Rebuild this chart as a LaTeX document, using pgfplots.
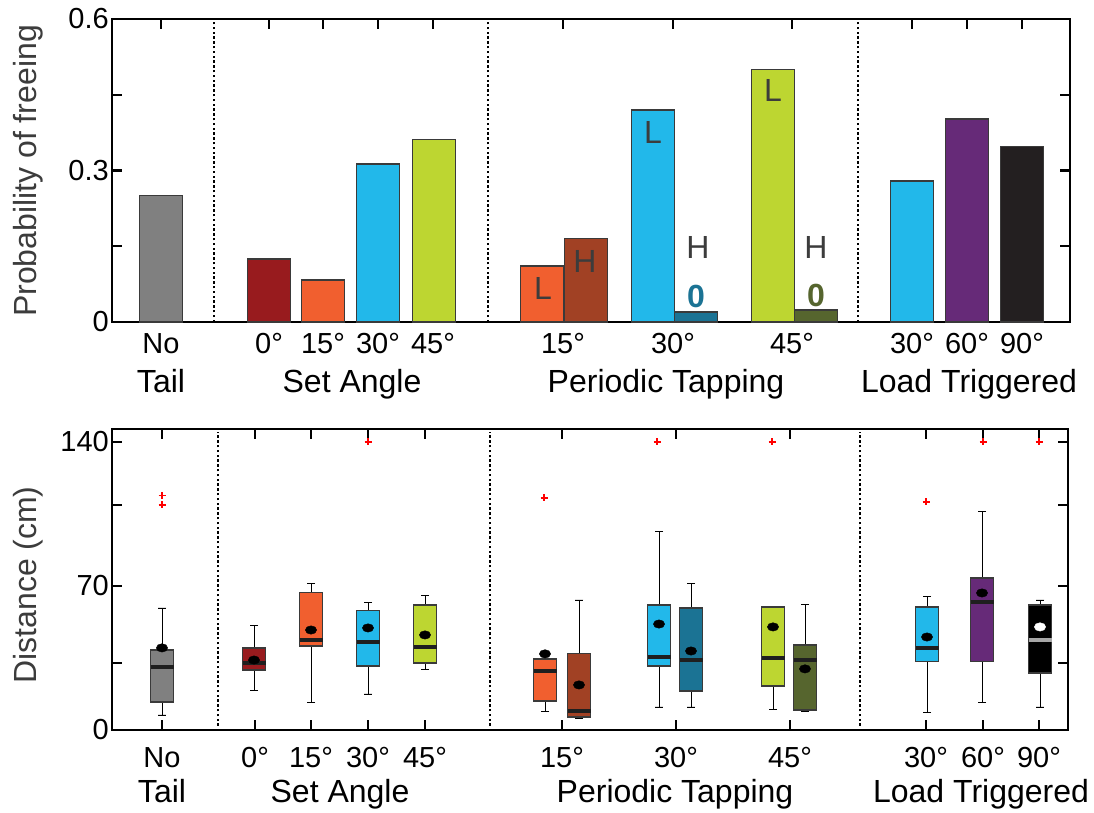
\documentclass[border=0pt]{standalone}
\usepackage{fontspec}
\setmainfont{Liberation Sans}
\usepackage{pgfplots}
\pgfplotsset{compat=1.18}
\usepgfplotslibrary{statistics}

\definecolor{cGray}{HTML}{808080}
\definecolor{cRed}{HTML}{981B1E}
\definecolor{cOrange}{HTML}{F15F2F}
\definecolor{cCyan}{HTML}{22B8EA}
\definecolor{cLime}{HTML}{BDD631}
\definecolor{cBrown}{HTML}{A14124}
\definecolor{cTeal}{HTML}{1B7394}
\definecolor{cOlive}{HTML}{56652E}
\definecolor{cPurple}{HTML}{662A78}
\definecolor{cBlack}{HTML}{231F20}
\definecolor{edge}{HTML}{3A3A3A}
\definecolor{txt}{HTML}{3C3C3C}

\newcommand\lblfont{\fontsize{32}{36}\selectfont}

\pgfplotsset{
  panel/.style={
    scale only axis, anchor=south west, clip=false,
    axis line style={line width=2.5pt},
    tick style={line width=2.2pt, black},
    major tick length=10pt, minor tick length=10pt,
    tick align=inside,
    /pgf/number format/assume math mode=true,
    tick label style={font=\fontsize{29}{34}\selectfont},
    yticklabel style={inner sep=3pt},
    xticklabel style={anchor=base},
  },
  pbar/.style={ybar, bar width=43, bar shift=0pt, draw=edge, line width=1.3pt},
  pbox/.style={draw=edge, line width=1.2pt,
    boxplot/draw direction=y,
    boxplot/every whisker/.style={black, line width=0.9pt},
    boxplot/every median/.style={line width=3.4pt, draw=black!88}},
  sep/.style={sharp plot, no marks, black, line width=2.4pt, dash pattern=on 2.4pt off 2.4pt},
}

\begin{document}
\fontsize{29}{34}\selectfont
\begin{tikzpicture}[x=1pt, y=1pt, font=\fontsize{29}{34}\selectfont]
\path[use as bounding box] (0,0) rectangle (1094,813);

% ---- top panel: probability of freeing
\begin{axis}[panel, at={(112pt,491pt)}, width=958pt, height=303pt,
  xmin=112, xmax=1070, ymin=0, ymax=0.6,
  ytick={0,0.3,0.6}, yticklabels={0,0.3,0.6}, minor ytick={0.15,0.45},
  xtick={161,269,323,378,433,563,673,792,912,967,1022},
  xticklabels={No,0°,15°,30°,45°,15°,30°,45°,30°,60°,90°},
  xtick pos=right, xticklabel pos=left,
  xticklabel style={yshift=-32pt}]
\addplot[pbar, fill=cGray] coordinates {(161,0.25)};
\addplot[pbar, fill=cRed] coordinates {(269,0.125)};
\addplot[pbar, fill=cOrange] coordinates {(323,0.083)};
\addplot[pbar, fill=cCyan] coordinates {(378,0.313)};
\addplot[pbar, fill=cLime] coordinates {(434,0.362)};
\addplot[pbar, fill=cOrange] coordinates {(542,0.111)};
\addplot[pbar, fill=cBrown] coordinates {(586,0.166)};
\addplot[pbar, fill=cCyan] coordinates {(653,0.42)};
\addplot[pbar, fill=cTeal] coordinates {(696,0.02)};
\addplot[pbar, fill=cLime] coordinates {(773,0.5)};
\addplot[pbar, fill=cOlive] coordinates {(816,0.024)};
\addplot[pbar, fill=cCyan] coordinates {(912,0.279)};
\addplot[pbar, fill=cPurple] coordinates {(967,0.402)};
\addplot[pbar, fill=cBlack] coordinates {(1022,0.347)};
\addplot[sep] coordinates {(214,0) (214,0.6)};
\addplot[sep] coordinates {(488,0) (488,0.6)};
\addplot[sep] coordinates {(858,0) (858,0.6)};
\node[text=txt, font=\lblfont] at (axis cs:543,0.067) {L};
\node[text=txt, font=\lblfont] at (axis cs:585,0.119) {H};
\node[text=txt, font=\lblfont] at (axis cs:653,0.376) {L};
\node[text=txt, font=\lblfont] at (axis cs:698,0.147) {H};
\node[text=cTeal, font=\lblfont\bfseries] at (axis cs:696,0.05) {0};
\node[text=txt, font=\lblfont] at (axis cs:773,0.459) {L};
\node[text=txt, font=\lblfont] at (axis cs:816,0.147) {H};
\node[text=cOlive, font=\lblfont\bfseries] at (axis cs:816,0.053) {0};
\end{axis}
\node[text=txt, rotate=90, font=\lblfont] at (28,642) {Probability of freeing};
\begin{scope}[font=\lblfont]
\node[anchor=base] at (161,420) {Tail};
\node[anchor=base] at (352,420) {Set Angle};
\node[anchor=base] at (666,420) {Periodic Tapping};
\node[anchor=base] at (969,420) {Load Triggered};
\end{scope}

% ---- bottom panel: distance
\begin{axis}[panel, at={(112pt,83pt)}, width=956pt, height=301pt,
  xmin=112, xmax=1068, ymin=0, ymax=146.3,
  ytick={0,32.5,70,109.5,140}, yticklabels={0,{},70,{},140},
  xtick={162,255,311,368,425,562,676,790,926,983,1039},
  xticklabels={No,0°,15°,30°,45°,15°,30°,45°,30°,60°,90°},
  xtick pos=both, xticklabel pos=left,
  xticklabel style={yshift=-38pt}]
\addplot[sep] coordinates {(218,2) (218,145)};
\addplot[sep] coordinates {(490,2) (490,145)};
\addplot[sep] coordinates {(860,2) (860,145)};
\addplot[pbox, fill=cGray, boxplot prepared={draw position=162, box extend=23, whisker extend=8,
  lower whisker=7.3, lower quartile=13.6, median=30.6, upper quartile=38.9, upper whisker=59.3}] coordinates {};
\addplot[pbox, fill=cRed, boxplot prepared={draw position=254, box extend=23, whisker extend=8,
  lower whisker=19.0, lower quartile=29.2, median=32.6, upper quartile=39.9, upper whisker=50.6}] coordinates {};
\addplot[pbox, fill=cOrange, boxplot prepared={draw position=311, box extend=23, whisker extend=8,
  lower whisker=13.6, lower quartile=40.8, median=43.8, upper quartile=67, upper whisker=71}] coordinates {};
\addplot[pbox, fill=cCyan, boxplot prepared={draw position=368, box extend=23, whisker extend=8,
  lower whisker=17.5, lower quartile=31.1, median=42.8, upper quartile=57.9, upper whisker=62.2}] coordinates {};
\addplot[pbox, fill=cLime, boxplot prepared={draw position=425, box extend=23, whisker extend=8,
  lower whisker=29.2, lower quartile=32.6, median=40.3, upper quartile=60.8, upper whisker=65.6}] coordinates {};
\addplot[pbox, fill=cOrange, boxplot prepared={draw position=545, box extend=23, whisker extend=8,
  lower whisker=8.8, lower quartile=14.1, median=28.7, upper quartile=34.5, upper whisker=35}] coordinates {};
\addplot[pbox, fill=cBrown, boxplot prepared={draw position=579, box extend=23, whisker extend=8,
  lower whisker=5.8, lower quartile=6.3, median=9.2, upper quartile=37, upper whisker=63.2}] coordinates {};
\addplot[pbox, fill=cCyan, boxplot prepared={draw position=659, box extend=23, whisker extend=8,
  lower whisker=11.2, lower quartile=31.1, median=35.5, upper quartile=60.8, upper whisker=96.7}] coordinates {};
\addplot[pbox, fill=cTeal, boxplot prepared={draw position=691, box extend=23, whisker extend=8,
  lower whisker=11.2, lower quartile=19, median=34, upper quartile=59.3, upper whisker=71}] coordinates {};
\addplot[pbox, fill=cLime, boxplot prepared={draw position=773, box extend=23, whisker extend=8,
  lower whisker=10.2, lower quartile=21.4, median=35, upper quartile=59.8, upper whisker=60}] coordinates {};
\addplot[pbox, fill=cOlive, boxplot prepared={draw position=805, box extend=23, whisker extend=8,
  lower whisker=8.8, lower quartile=9.7, median=34, upper quartile=41.3, upper whisker=60.8}] coordinates {};
\addplot[pbox, fill=cCyan, boxplot prepared={draw position=927, box extend=23, whisker extend=8,
  lower whisker=8.3, lower quartile=33.1, median=39.9, upper quartile=59.8, upper whisker=64.7}] coordinates {};
\addplot[pbox, fill=cPurple, boxplot prepared={draw position=982, box extend=23, whisker extend=8,
  lower whisker=13.6, lower quartile=33.1, median=62.2, upper quartile=73.9, upper whisker=106}] coordinates {};
\addplot[pbox, fill=black, boxplot/every median/.style={line width=3.4pt, draw=black!35},
  boxplot prepared={draw position=1040, box extend=23, whisker extend=8,
  lower whisker=11.2, lower quartile=27.7, median=43.8, upper quartile=60.8, upper whisker=63.2}] coordinates {};
% means
\addplot[only marks, mark=*, mark size=4.2pt, black, mark options={xscale=1.35, fill=black}] coordinates {
  (162,39.9) (254,34) (311,48.6) (368,49.6) (425,46.2) (545,37) (579,21.9) (659,51.5)
  (691,38.4) (773,50.1) (805,29.7) (927,45.2) (982,66.6)};
\addplot[only marks, mark=*, mark size=4.2pt, white, mark options={xscale=1.35, fill=white}] coordinates {(1040,50.1)};
% outliers
\addplot[only marks, mark=+, mark size=3.5pt, red, line width=1.8pt] coordinates {
  (162,114) (162,109.5) (368,140) (544,112.8) (657,140) (772,140) (926,111) (983,140) (1039,140)};
\end{axis}
\node[text=txt, rotate=90, font=\lblfont] at (28,228) {Distance (cm)};
\begin{scope}[font=\lblfont]
\node[anchor=base] at (162,10) {Tail};
\node[anchor=base] at (340,10) {Set Angle};
\node[anchor=base] at (675,10) {Periodic Tapping};
\node[anchor=base] at (981,10) {Load Triggered};
\end{scope}
\end{tikzpicture}
\end{document}
